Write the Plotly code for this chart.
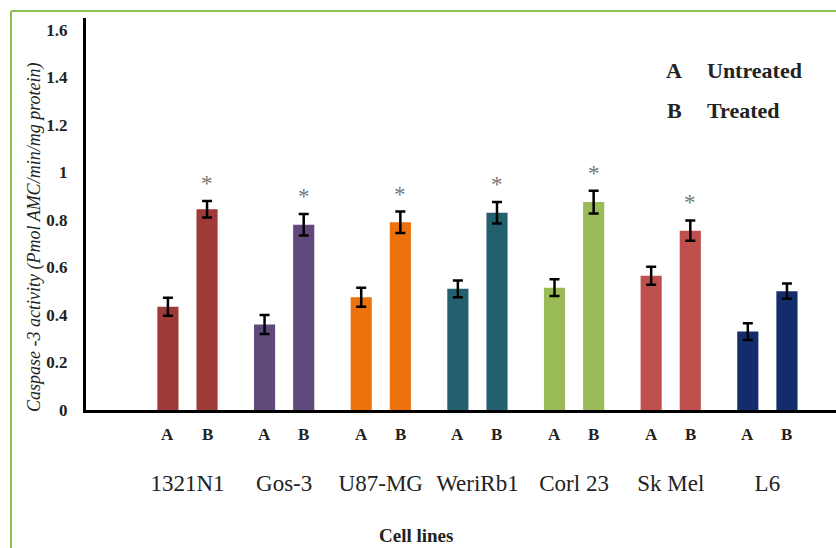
import plotly.graph_objects as go

cell_lines = ["1321N1", "Gos-3", "U87-MG", "WeriRb1", "Corl 23", "Sk Mel", "L6"]
untreated = [0.435, 0.36, 0.475, 0.51, 0.515, 0.565, 0.33]
untreated_err = [0.038, 0.04, 0.04, 0.035, 0.035, 0.038, 0.035]
treated = [0.845, 0.78, 0.79, 0.83, 0.875, 0.755, 0.50]
treated_err = [0.035, 0.045, 0.045, 0.045, 0.048, 0.043, 0.032]
significant = [True, True, True, True, True, True, False]
colors = ["#9E3A38", "#604A7B", "#EC720E", "#22606F", "#9BBB59", "#C0504D", "#132C6C"]
y_ticks = [0, 0.2, 0.4, 0.6, 0.8, 1.0, 1.2, 1.4, 1.6]
y_ticktext = ["0", "0.2", "0.4", "0.6", "0.8", "1", "1.2", "1.4", "1.6"]

SERIF = "Liberation Serif"

fig = go.Figure()
fig.add_trace(go.Bar(
    name="Untreated", x=cell_lines, y=untreated, marker=dict(color=colors, line=dict(width=0)),
    error_y=dict(type="data", array=untreated_err, color="black", thickness=2.5, width=5),
))
fig.add_trace(go.Bar(
    name="Treated", x=cell_lines, y=treated, marker=dict(color=colors, line=dict(width=0)),
    error_y=dict(type="data", array=treated_err, color="black", thickness=2.5, width=5),
))

bargap = 0.19
slot_px = 96.6 * (1 - bargap) / 2

annotations = []
for i, name in enumerate(cell_lines):
    for lab, sh in (("A", -slot_px / 2), ("B", slot_px / 2)):
        annotations.append(dict(
            x=name, xref="x", y=0, yref="paper", xshift=sh, yshift=-13,
            text=lab, showarrow=False, yanchor="top", xanchor="center",
            font=dict(family=SERIF, size=17, color="#222", weight="bold"),
        ))
    if significant[i]:
        annotations.append(dict(
            x=name, xref="x", y=treated[i] + treated_err[i], yref="y", xshift=slot_px / 2, yshift=3,
            text="*", showarrow=False, yanchor="bottom", xanchor="center",
            font=dict(family=SERIF, size=23, color="#777777"),
        ))

# legend text
for lab, txt, ypix in (("A", "Untreated", 70), ("B", "Treated", 110)):
    yp = (410 - ypix) / 392
    annotations.append(dict(x=(674 - 86) / 750, xref="paper", y=yp, yref="paper", text=lab,
                            showarrow=False, xanchor="center", yanchor="middle",
                            font=dict(family=SERIF, size=22, color="#222", weight="bold")))
    annotations.append(dict(x=(705 - 86) / 750, xref="paper", y=yp, yref="paper", text=txt,
                            showarrow=False, xanchor="left", yanchor="middle",
                            font=dict(family=SERIF, size=22, color="#222", weight="bold")))

# y-axis title
annotations.append(dict(x=(34 - 86) / 750, xref="paper", y=(410 - 238) / 392, yref="paper",
                        text="Caspase -3 activity (Pmol AMC/min/mg protein)", textangle=-90,
                        showarrow=False, xanchor="center", yanchor="middle",
                        font=dict(family=SERIF, size=18, color="#222", style="italic")))
# x-axis title
annotations.append(dict(x=(416 - 86) / 750, xref="paper", y=(410 - 535) / 392, yref="paper",
                        text="Cell lines", showarrow=False, xanchor="center", yanchor="middle",
                        font=dict(family=SERIF, size=19, color="#222", weight="bold")))

frame_color = "#92C050"
shapes = [
    dict(type="line", xref="paper", yref="paper", x0=(11 - 86) / 750, x1=1.01,
         y0=(410 - 11) / 392, y1=(410 - 11) / 392, line=dict(color=frame_color, width=2)),
    dict(type="line", xref="paper", yref="paper", x0=(11 - 86) / 750, x1=(11 - 86) / 750,
         y0=(410 - 11) / 392, y1=-0.4, line=dict(color=frame_color, width=2)),
]

fig.update_layout(
    width=836, height=548,
    margin=dict(l=86, r=0, t=18, b=138),
    paper_bgcolor="white", plot_bgcolor="white",
    barmode="group", bargap=bargap, bargroupgap=0.46,
    showlegend=False,
    annotations=annotations, shapes=shapes,
    xaxis=dict(range=[-1.05, 6.71], showline=True, linecolor="black", linewidth=3,
               showgrid=False, zeroline=False, ticks="",
               tickfont=dict(family=SERIF, size=23, color="#222"), ticklabelstandoff=50),
    yaxis=dict(range=[0, 1.65], showline=True, linecolor="black", linewidth=3,
               showgrid=False, zeroline=False, ticks="",
               tickvals=y_ticks, ticktext=y_ticktext, ticklabelstandoff=12,
               tickfont=dict(family=SERIF, size=17, color="#222", weight="bold")),
)

fig.write_html("out.html", config={"displayModeBar": False},
               post_script="document.body.style.margin='0';document.body.style.overflow='hidden';")
